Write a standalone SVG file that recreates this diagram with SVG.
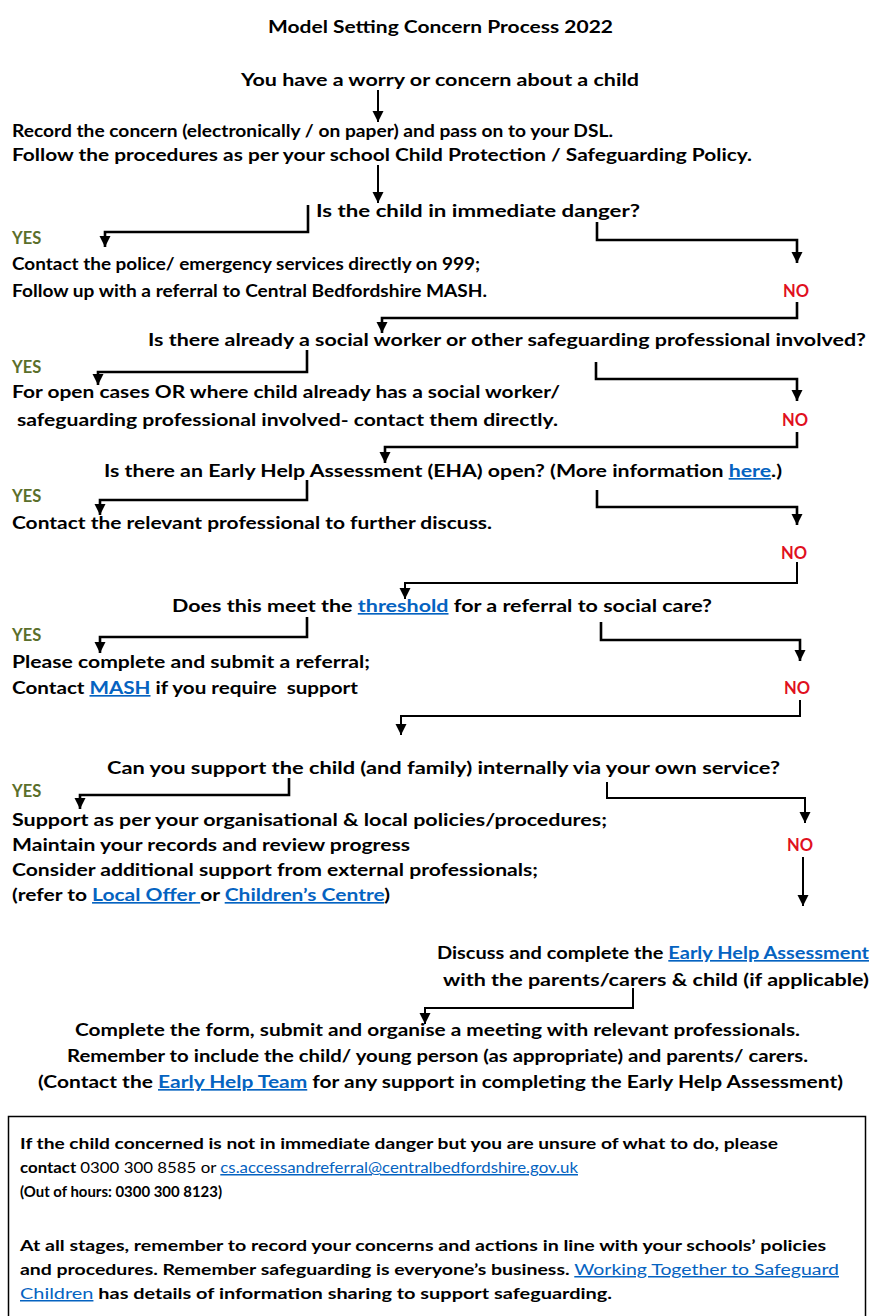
<svg xmlns="http://www.w3.org/2000/svg" width="873" height="1316" viewBox="0 0 873 1316">
<style>
text{font-family:Lato,"Open Sans","Liberation Sans",sans-serif;font-weight:700;font-size:16.5px;fill:#000}
.yes{fill:#5b6f2b}
.no{fill:#e0101e}
.lk{fill:#0563c1;text-decoration:underline}
.bx{font-size:15px}
.rg{font-weight:400}
.c{fill:none;stroke:#000;stroke-width:2}
.t{stroke-width:2.6}
</style>
<defs>
<marker id="ah" markerUnits="userSpaceOnUse" markerWidth="14" markerHeight="14" viewBox="0 -7 12 14" refX="11" refY="0" orient="auto">
<path d="M0,-5.5 L11,0 L0,5.5 z" fill="#000"/>
</marker>
</defs>
<rect width="873" height="1316" fill="#fff"/>

<g id="connectors">
<path class="c" d="M378,90 V122" marker-end="url(#ah)"/>
<path class="c" d="M378,165 V203" marker-end="url(#ah)"/>
<path class="c t" d="M308,205 V232 H105 V247" marker-end="url(#ah)"/>
<path class="c t" d="M597,222 V240 H797 V263" marker-end="url(#ah)"/>
<path class="c t" d="M797,302 V318 H382 V333" marker-end="url(#ah)"/>
<path class="c t" d="M307,350 V372 H98 V385" marker-end="url(#ah)"/>
<path class="c t" d="M596,362 V379 H797 V401" marker-end="url(#ah)"/>
<path class="c t" d="M797,432 V447 H385 V463" marker-end="url(#ah)"/>
<path class="c t" d="M307,480 V500 H100 V515" marker-end="url(#ah)"/>
<path class="c t" d="M597,490 V507 H797 V525" marker-end="url(#ah)"/>
<path class="c" d="M797,562 V583 H405 V599" marker-end="url(#ah)"/>
<path class="c t" d="M307,617 V637 H100 V653" marker-end="url(#ah)"/>
<path class="c t" d="M601,622 V640 H800 V661" marker-end="url(#ah)"/>
<path class="c" d="M800,700 V716 H401 V735" marker-end="url(#ah)"/>
<path class="c t" d="M289,778 V795 H80 V809" marker-end="url(#ah)"/>
<path class="c" d="M607,782 V798 H805 V823" marker-end="url(#ah)"/>
<path class="c" d="M803,857 V906" marker-end="url(#ah)"/>
<path class="c" d="M633,988 V1008 H425 V1024" marker-end="url(#ah)"/>
</g>

<g id="title"><text x="268" y="33" textLength="345" lengthAdjust="spacingAndGlyphs">Model Setting Concern Process 2022</text></g>
<g id="start"><text x="241" y="86" textLength="398" lengthAdjust="spacingAndGlyphs">You have a worry or concern about a child</text></g>
<g id="record">
<text x="12" y="137" textLength="601" lengthAdjust="spacingAndGlyphs">Record the concern (electronically / on paper) and pass on to your DSL.</text>
<text x="12" y="161" textLength="740" lengthAdjust="spacingAndGlyphs">Follow the procedures as per your school Child Protection / Safeguarding Policy.</text>
</g>
<g id="q1"><text x="316" y="217" textLength="324" lengthAdjust="spacingAndGlyphs">Is the child in immediate danger?</text></g>
<g id="yes1">
<text class="yes" x="12" y="244">YES</text>
<text x="12" y="270" textLength="468" lengthAdjust="spacingAndGlyphs">Contact the police/ emergency services directly on 999;</text>
<text x="12" y="297" textLength="475" lengthAdjust="spacingAndGlyphs">Follow up with a referral to Central Bedfordshire MASH.</text>
</g>
<g id="no1"><text class="no" x="783" y="297">NO</text></g>
<g id="q2"><text x="148" y="346" textLength="718" lengthAdjust="spacingAndGlyphs">Is there already a social worker or other safeguarding professional involved?</text></g>
<g id="yes2">
<text class="yes" x="12" y="373">YES</text>
<text x="12" y="398" textLength="548" lengthAdjust="spacingAndGlyphs">For open cases OR where child already has a social worker/</text>
<text x="17" y="426" textLength="541" lengthAdjust="spacingAndGlyphs">safeguarding professional involved- contact them directly.</text>
</g>
<g id="no2"><text class="no" x="782" y="426">NO</text></g>
<g id="q3"><text x="104" y="477" textLength="678" lengthAdjust="spacingAndGlyphs">Is there an Early Help Assessment (EHA) open? (More information <tspan class="lk">here</tspan>.)</text></g>
<g id="yes3">
<text class="yes" x="12" y="502">YES</text>
<text x="12" y="529" textLength="480" lengthAdjust="spacingAndGlyphs">Contact the relevant professional to further discuss.</text>
</g>
<g id="no3"><text class="no" x="781" y="559">NO</text></g>
<g id="q4"><text x="172" y="612" textLength="540" lengthAdjust="spacingAndGlyphs">Does this meet the <tspan class="lk">threshold</tspan> for a referral to social care?</text></g>
<g id="yes4">
<text class="yes" x="12" y="641">YES</text>
<text x="12" y="668" textLength="358" lengthAdjust="spacingAndGlyphs">Please complete and submit a referral;</text>
<text x="12" y="694" textLength="346" lengthAdjust="spacingAndGlyphs" xml:space="preserve">Contact <tspan class="lk">MASH</tspan> if you require  support</text>
</g>
<g id="no4"><text class="no" x="784" y="694">NO</text></g>
<g id="q5"><text x="107" y="774" textLength="673" lengthAdjust="spacingAndGlyphs">Can you support the child (and family) internally via your own service?</text></g>
<g id="yes5">
<text class="yes" x="12" y="797">YES</text>
<text x="12" y="826" textLength="595" lengthAdjust="spacingAndGlyphs">Support as per your organisational &amp; local policies/procedures;</text>
<text x="12" y="851" textLength="398" lengthAdjust="spacingAndGlyphs">Maintain your records and review progress</text>
<text x="12" y="876" textLength="526" lengthAdjust="spacingAndGlyphs">Consider additional support from external professionals;</text>
<text x="12" y="901" textLength="378" lengthAdjust="spacingAndGlyphs" xml:space="preserve">(refer to <tspan class="lk">Local Offer </tspan>or <tspan class="lk">Children’s Centre</tspan>)</text>
</g>
<g id="no5"><text class="no" x="787" y="851">NO</text></g>
<g id="eha">
<text x="437" y="959" textLength="432" lengthAdjust="spacingAndGlyphs">Discuss and complete the <tspan class="lk">Early Help Assessment</tspan></text>
<text x="443" y="986" textLength="426" lengthAdjust="spacingAndGlyphs">with the parents/carers &amp; child (if applicable)</text>
</g>
<g id="complete">
<text x="75" y="1036" textLength="725" lengthAdjust="spacingAndGlyphs">Complete the form, submit and organise a meeting with relevant professionals.</text>
<text x="67" y="1062" textLength="741" lengthAdjust="spacingAndGlyphs">Remember to include the child/ young person (as appropriate) and parents/ carers.</text>
<text x="38" y="1088" textLength="805" lengthAdjust="spacingAndGlyphs">(Contact the <tspan class="lk">Early Help Team</tspan> for any support in completing the Early Help Assessment)</text>
</g>
<g id="infobox">
<rect x="8.5" y="1116.5" width="857" height="210" fill="none" stroke="#000" stroke-width="1.5"/>
<text class="bx" x="20" y="1149" textLength="758" lengthAdjust="spacingAndGlyphs">If the child concerned is not in immediate danger but you are unsure of what to do, please</text>
<text class="bx" x="20" y="1173" textLength="558" lengthAdjust="spacingAndGlyphs">contact <tspan class="rg">0300 300 8585 or </tspan><tspan class="lk rg">cs.accessandreferral@centralbedfordshire.gov.uk</tspan></text>
<text class="bx" x="20" y="1197" textLength="202" lengthAdjust="spacingAndGlyphs">(Out of hours: 0300 300 8123)</text>
<text class="bx" x="20" y="1251" textLength="806" lengthAdjust="spacingAndGlyphs">At all stages, remember to record your concerns and actions in line with your schools’ policies</text>
<text class="bx" x="20" y="1275" textLength="819" lengthAdjust="spacingAndGlyphs">and procedures. Remember safeguarding is everyone’s business. <tspan class="lk rg">Working Together to Safeguard</tspan></text>
<text class="bx" x="20" y="1299" textLength="592" lengthAdjust="spacingAndGlyphs"><tspan class="lk rg">Children</tspan> has details of information sharing to support safeguarding.</text>
</g>
</svg>
